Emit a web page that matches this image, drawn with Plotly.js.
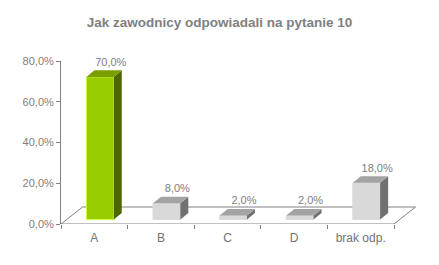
<!DOCTYPE html>
<html>
<head>
<meta charset="utf-8">
<script src="https://cdn.plot.ly/plotly-3.0.1.min.js"></script>
<style>html,body{margin:0;padding:0;background:#fff;}#chart{width:439px;height:265px;}</style>
</head>
<body>
<div id="chart"></div>
<script>
// ---- data ----
const categories = ['A', 'B', 'C', 'D', 'brak odp.'];
const values = [0.70, 0.08, 0.02, 0.02, 0.18];
const yTickVals = [0, 0.2, 0.4, 0.6, 0.8];
const titleText = 'Jak zawodnicy odpowiadali na pytanie 10';

// ---- styles ----
const frontColors = ['#99cc00', '#d9d9d9', '#d9d9d9', '#d9d9d9', '#d9d9d9'];
const edgeColors  = ['#ccff33', '#d9d9d9', '#d9d9d9', '#d9d9d9', '#d9d9d9'];
const sideColors  = ['#4d6600', '#707070', '#707070', '#707070', '#707070'];
const topColors   = ['#7a9e00', '#a3a3a3', '#a3a3a3', '#a3a3a3', '#a3a3a3'];
const gray = '#808080';
const FONT = 'Liberation Sans, Arial, sans-serif';

// 3D geometry (in axis units)
const BAR_W = 0.41, OX = 0.087, OY = 0.022, DX = 0.12, DY = 0.032;
const FLOOR_DX = 0.323, FLOOR_DY = 0.0834;
const LABEL_DX = 0.16, LABEL_DY = 0.01;
const n = categories.length;

const traces = [];
traces.push({
  type: 'bar',
  x: categories.map((c, i) => i + OX),
  y: values,
  base: OY,
  width: BAR_W,
  marker: { color: frontColors, line: { color: edgeColors, width: 1 } },
  hoverinfo: 'skip', showlegend: false
});

values.forEach((v, i) => {
  const xr = i + OX + BAR_W / 2;
  const xl = i + OX - BAR_W / 2;
  const t = OY + v;
  traces.push({
    type: 'scatter', mode: 'lines', fill: 'toself',
    x: [xr, xr + DX, xr + DX, xr, xr],
    y: [OY, OY + DY, t + DY, t, OY],
    fillcolor: sideColors[i], line: { width: 0, color: sideColors[i] },
    hoverinfo: 'skip', showlegend: false
  });
  traces.push({
    type: 'scatter', mode: 'lines', fill: 'toself',
    x: [xl, xr, xr + DX, xl + DX, xl],
    y: [t, t, t + DY, t + DY, t],
    fillcolor: topColors[i], line: { width: 0, color: topColors[i] },
    hoverinfo: 'skip', showlegend: false
  });
});

traces.push({
  type: 'scatter', mode: 'text',
  x: categories.map((c, i) => i + OX + LABEL_DX),
  y: values.map(v => OY + v + DY + LABEL_DY),
  text: values.map(v => (v * 100).toFixed(1).replace('.', ',') + '%'),
  textposition: 'top center',
  textfont: { family: FONT, size: 11, color: gray },
  cliponaxis: false, hoverinfo: 'skip', showlegend: false
});

const x0 = -0.5, x1 = n - 0.5;
const layout = {
  width: 439, height: 265,
  margin: { l: 61, r: 18, t: 61, b: 41, pad: 0 },
  paper_bgcolor: '#ffffff', plot_bgcolor: '#ffffff',
  separators: ', ',
  font: { family: FONT, color: gray },
  title: {
    text: '<b>' + titleText + '</b>',
    font: { family: FONT, size: 13.5, color: gray },
    x: 0.5, xref: 'container', y: 1 - 22 / 265, yref: 'container', yanchor: 'middle'
  },
  xaxis: {
    range: [x0, x0 + 360 / 66.6],
    tickmode: 'array',
    tickvals: categories.map((c, i) => i),
    ticktext: categories,
    ticks: '', showline: false, showgrid: false, zeroline: false,
    ticklabelstandoff: 5,
    tickfont: { family: FONT, size: 12, color: '#737373' },
    minor: {
      tickmode: 'array',
      tickvals: Array.from({ length: n + 1 }, (_, k) => k - 0.5),
      ticks: 'outside', ticklen: 4, tickcolor: gray, tickwidth: 1, showgrid: false
    },
    fixedrange: true
  },
  yaxis: {
    range: [0, 0.8],
    tickmode: 'array', tickvals: yTickVals, tickformat: '.1%',
    showline: true, linecolor: gray, linewidth: 1,
    ticks: 'outside', ticklen: 4, tickcolor: gray,
    showgrid: false, zeroline: false,
    tickfont: { family: FONT, size: 11, color: gray },
    fixedrange: true
  },
  shapes: [{
    type: 'path', xref: 'x', yref: 'y', layer: 'below',
    path: `M ${x0} 0 L ${x1} 0 L ${x1 + FLOOR_DX} ${FLOOR_DY} L ${x0 + FLOOR_DX} ${FLOOR_DY} Z`,
    line: { color: gray, width: 1 }, fillcolor: 'rgba(0,0,0,0)'
  }],
  bargap: 0
};

Plotly.newPlot('chart', traces, layout, { staticPlot: true, displayModeBar: false });
</script>
</body>
</html>
